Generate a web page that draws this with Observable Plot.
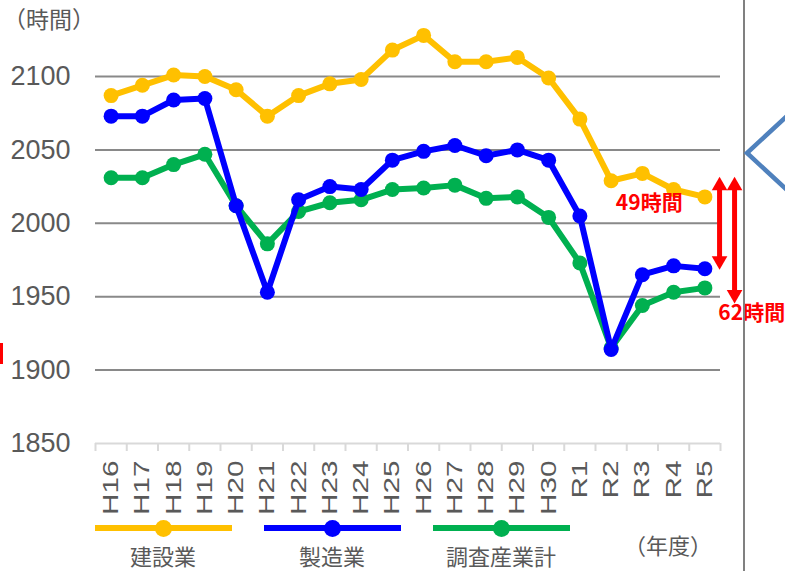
<!DOCTYPE html>
<html>
<head>
<meta charset="utf-8">
<script src="https://cdn.jsdelivr.net/npm/d3@7"></script>
<script src="https://cdn.jsdelivr.net/npm/@observablehq/plot@0.6"></script>
<style>
  html, body { margin: 0; padding: 0; background: #fff; }
  #wrap { position: relative; width: 785px; height: 571px; overflow: hidden; font-family: "Noto Sans CJK JP", sans-serif; }
  #chart { position: absolute; left: 0; top: 0; }
  .abs { position: absolute; }
  .lg-line { position: absolute; height: 6px; }
  .lg-dot { position: absolute; width: 17px; height: 17px; border-radius: 50%; }
  .lg-text { position: absolute; font-size: 22px; line-height: 26px; color: #595959; white-space: nowrap; transform: translateX(-50%); }
</style>
</head>
<body>
<div id="wrap">
  <div id="chart"></div>
</div>
<script>
// ---- data ----
const years = ["H16","H17","H18","H19","H20","H21","H22","H23","H24","H25","H26","H27","H28","H29","H30","R1","R2","R3","R4","R5"];
const construction  = [2087, 2094, 2101, 2100, 2091, 2073, 2087, 2095, 2098, 2118, 2128, 2110, 2110, 2113, 2099, 2071, 2029, 2034, 2023, 2018];
const manufacturing = [2073, 2073, 2084, 2085, 2012, 1953, 2016, 2025, 2023, 2043, 2049, 2053, 2046, 2050, 2043, 2005, 1914, 1965, 1971, 1969];
const allIndustries = [2031, 2031, 2040, 2047, 2012, 1986, 2008, 2014, 2016, 2023, 2024, 2026, 2017, 2018, 2004, 1973, 1915, 1944, 1953, 1956];
const seriesNames  = ["建設業", "製造業", "調査産業計"];
const seriesColors = ["#FFC000", "#0000FF", "#00B050"];
const yTicks = [1850, 1900, 1950, 2000, 2050, 2100];
const yUnit = "（時間）";
const xUnit = "（年度）";
// annotation: gap arrows (x in category index units, y in hours)
const gapLabels = ["49時間", "62時間"];
const gapArrowX = [19.47, 19.95];
const gapArrowTop = [2031, 2031];
const gapArrowBottom = [1969, 1946];
const gapLabelX = [17.22, 20.5];
const gapLabelY = [2013.5, 1939];

const seriesValues = [construction, manufacturing, allIndustries];
const rows = [];
seriesValues.forEach((vals, s) => vals.forEach((v, i) => rows.push({series: seriesNames[s], i, year: years[i], value: v})));
const arrows = gapLabels.map((t, k) => ({x: gapArrowX[k], top: gapArrowTop[k], bottom: gapArrowBottom[k], label: t, lx: gapLabelX[k], ly: gapLabelY[k]}));

const drawOrder = [0, 2, 1];
const numFont = "Liberation Sans, Arial, sans-serif";
const jpFont = "Noto Sans CJK JP, sans-serif";

const marks = [
  Plot.gridY(yTicks.filter(d => d > 1850), {stroke: "#898989", strokeOpacity: 1, strokeWidth: 2}),
  Plot.ruleY([1850], {stroke: "#d9d9d9", strokeWidth: 2}),
  Plot.axisX(d3.range(years.length + 1).map(i => i - 0.5), {tickSize: 8, tickFormat: () => "", stroke: "#d9d9d9", strokeWidth: 2, strokeOpacity: 1}),
  Plot.axisX(d3.range(years.length), {tickSize: 0, tickPadding: 17, tickFormat: i => years[i], tickRotate: -90, fontSize: 22, fontFamily: numFont, fill: "#595959"}),
  Plot.axisY(yTicks, {tickSize: 0, tickPadding: 25, tickFormat: d => String(d), fontSize: 27, fontFamily: numFont, fill: "#595959"})
];
for (const s of drawOrder) {
  const d = rows.filter(r => r.series === seriesNames[s]);
  marks.push(Plot.line(d, {x: "i", y: "value", stroke: seriesColors[s], strokeWidth: 6, strokeLinejoin: "round"}));
  marks.push(Plot.dot(d, {x: "i", y: "value", r: 7.5, fill: seriesColors[s], stroke: "none"}));
}
marks.push(
  Plot.ruleX(arrows, {x: "x", y1: "top", y2: "bottom", stroke: "#FF0000", strokeWidth: 5, insetTop: 10, insetBottom: 10}),
  Plot.dot(arrows, {x: "x", y: "top", symbol: "triangle", r: 5.8, fill: "#FF0000", stroke: "none", dy: 8}),
  Plot.dot(arrows, {x: "x", y: "bottom", symbol: "triangle", rotate: 180, r: 5.8, fill: "#FF0000", stroke: "none", dy: -8}),
  Plot.text(arrows, {x: "lx", y: "ly", text: "label", fill: "#FF0000", fontWeight: "bold", fontSize: 21, fontFamily: jpFont})
);

const chart = Plot.plot({
  width: 785,
  height: 520,
  marginLeft: 95,
  marginRight: 65,
  marginTop: 76,
  marginBottom: 77,
  style: {background: "transparent", overflow: "visible", fontFamily: numFont},
  x: {type: "linear", domain: [-0.5, years.length - 0.5], axis: null},
  y: {domain: [1850, 2100], axis: null},
  marks
});
document.getElementById("chart").appendChild(chart);

// stretch the rotated year labels along their reading direction (wide glyphs like the original)
d3.select(chart).selectAll("text").each(function() {
  if (!years.includes(this.textContent)) return;
  const t = this.getAttribute("transform");
  if (t && t.includes("rotate")) {
    this.setAttribute("transform", t + " scale(1.35,1)");
  } else {
    this.style.transformBox = "fill-box";
    this.style.transformOrigin = "center top";
    this.style.transform = "scaleY(1.35)";
  }
});

// ---- decorations & legend (HTML) ----
const wrap = document.getElementById("wrap");
function add(html) { wrap.insertAdjacentHTML("beforeend", html); }
add(`<div class="abs" style="left:3px;top:3px;font-size:23px;line-height:30px;color:#595959;">${yUnit}</div>`);
add(`<div class="abs" style="left:743px;top:0;width:2px;height:571px;background:#808080;"></div>`);
add(`<div class="abs" style="left:0;top:343px;width:3px;height:21px;background:#FF0000;"></div>`);
add(`<svg class="abs" style="left:740px;top:100px;" width="50" height="110"><polyline points="47,16 7,53 47,90" fill="none" stroke="#4F81BD" stroke-width="4.5"/></svg>`);
const lgLeft = [95, 264, 433];
const lgOrder = [0, 1, 2];
lgOrder.forEach((s, k) => {
  const x0 = lgLeft[k];
  add(`<div class="lg-line" style="left:${x0}px;top:525px;width:137px;background:${seriesColors[s]};"></div>`);
  add(`<div class="lg-dot" style="left:${x0 + 60}px;top:520px;background:${seriesColors[s]};"></div>`);
  add(`<div class="lg-text" style="left:${x0 + 68}px;top:542px;">${seriesNames[s]}</div>`);
});
add(`<div class="abs" style="left:624px;top:530px;font-size:22px;line-height:28px;color:#595959;">${xUnit}</div>`);
</script>
</body>
</html>
